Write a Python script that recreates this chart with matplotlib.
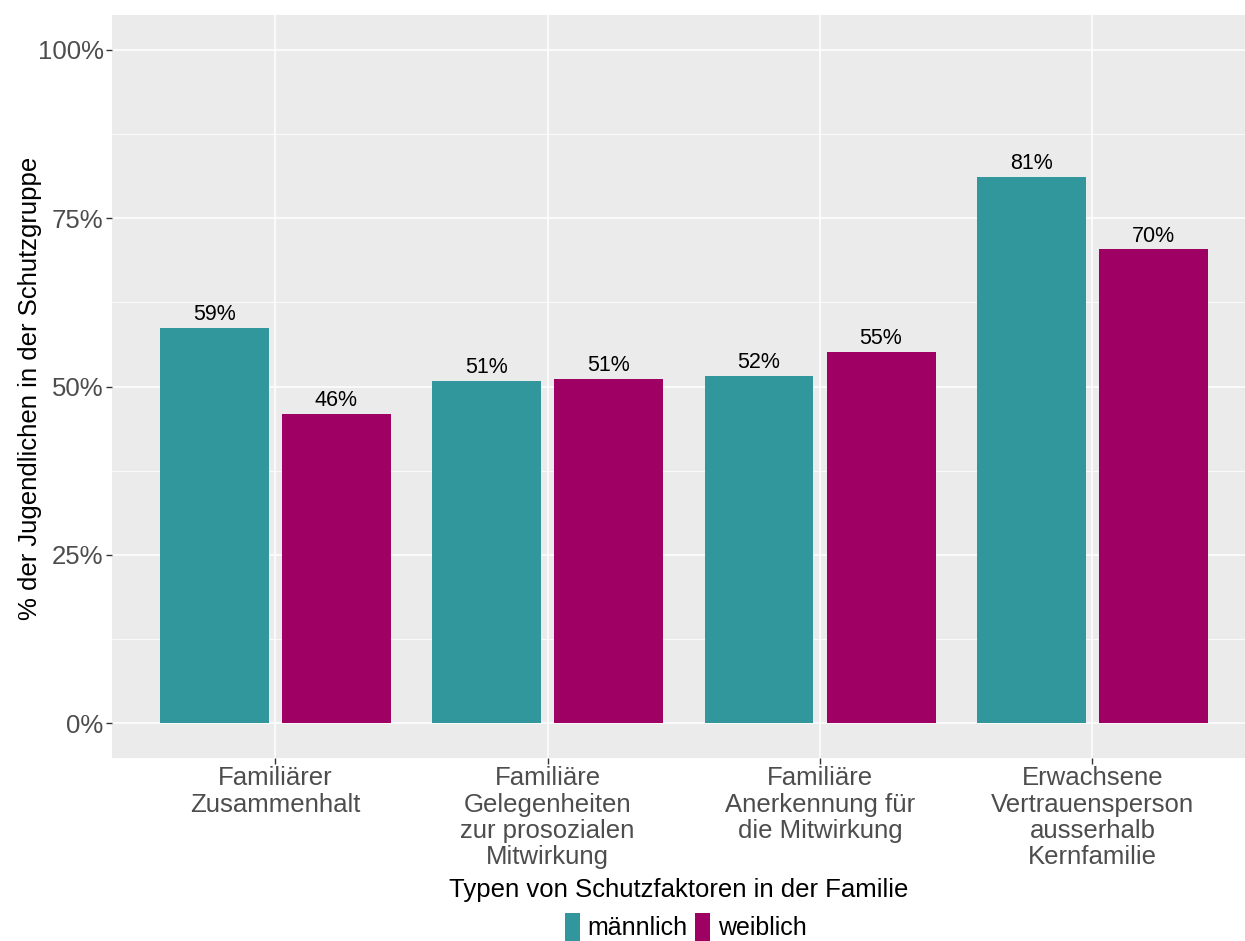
import matplotlib.pyplot as plt
from matplotlib.patches import Patch
import numpy as np

plt.rcParams['font.family'] = ['Liberation Sans', 'DejaVu Sans']

categories = ['Familiärer\nZusammenhalt',
              'Familiäre\nGelegenheiten\nzur prosozialen\nMitwirkung',
              'Familiäre\nAnerkennung für\ndie Mitwirkung',
              'Erwachsene\nVertrauensperson\nausserhalb\nKernfamilie']
maennlich = [0.587, 0.508, 0.516, 0.812]
weiblich = [0.459, 0.511, 0.551, 0.704]
groups = ['männlich', 'weiblich']
colors = ['#31979C', '#9E0063']

fig = plt.figure(figsize=(12.45, 9.41), dpi=100)
ax = fig.add_axes([112 / 1245, 1 - 758 / 941, (1245 - 112) / 1245, (758 - 15) / 941])
ax.set_facecolor('#EBEBEB')

x = np.arange(len(categories))
off = 0.224
w = 0.4
for vals, c, sgn in [(maennlich, colors[0], -1), (weiblich, colors[1], 1)]:
    ax.bar(x + sgn * off, vals, width=w, color=c, zorder=3)
    for xi, v in zip(x, vals):
        ax.text(xi + sgn * off, v + 0.004, f'{round(v * 100):d}%', ha='center', va='bottom',
                fontsize=15.5, color='black', zorder=4)

ax.set_xlim(-0.599, 3.56)
ax.set_ylim(-0.052, 1.052)
ax.set_yticks([0, 0.25, 0.5, 0.75, 1.0])
ax.set_yticklabels(['0%', '25%', '50%', '75%', '100%'])
ax.set_yticks([0.125, 0.375, 0.625, 0.875], minor=True)
ax.set_xticks(x)
ax.set_xticklabels(categories, linespacing=1.12)
ax.grid(which='major', color='white', linewidth=1.1, zorder=0)
ax.grid(which='minor', axis='y', color='white', linewidth=0.55, zorder=0)
ax.set_axisbelow(True)
for s in ax.spines.values():
    s.set_visible(False)
ax.tick_params(axis='both', which='major', colors='#333333', length=4, width=1,
               labelsize=18.5, labelcolor='#4D4D4D', pad=2)
ax.tick_params(which='minor', length=0)
ax.tick_params(axis='x', pad=2)

ax.set_xlabel('Typen von Schutzfaktoren in der Familie', fontsize=18.5, color='black', labelpad=6)
fig.text(30 / 1245, 1 - 388 / 941, '% der Jugendlichen in der Schutzgruppe', rotation=90,
         ha='center', va='center', fontsize=18.5, color='black')

handles = [Patch(facecolor=c, edgecolor='none') for c in colors]
fig.legend(handles, groups, loc='center', bbox_to_anchor=(0.551, 1 - 927 / 941), ncol=2,
           frameon=False, fontsize=18, handlelength=0.6, handleheight=1.4,
           handletextpad=0.3, columnspacing=0.3, borderaxespad=0)

fig.savefig('out.png', dpi=100)
